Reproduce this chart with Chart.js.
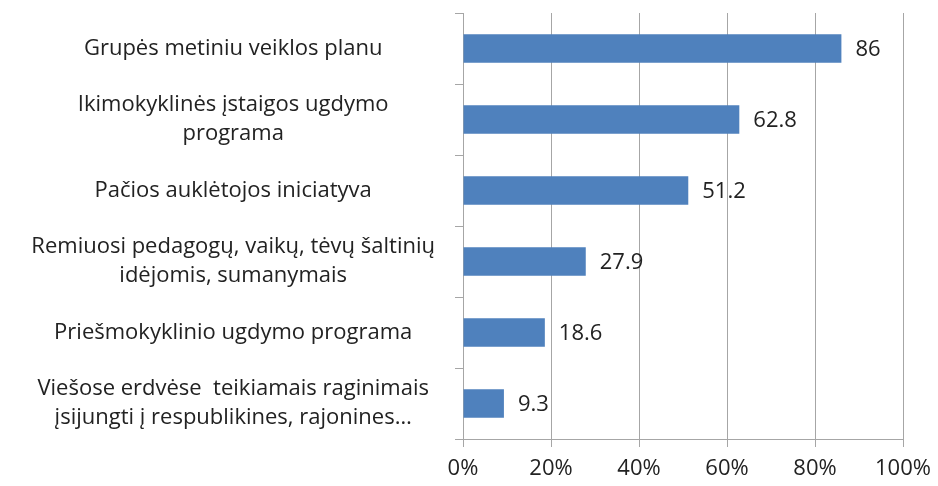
<!DOCTYPE html>
<html>
<head>
<meta charset="utf-8">
<script src="https://cdn.jsdelivr.net/npm/chart.js@4/dist/chart.umd.min.js"></script>
<style>
  html, body { margin: 0; padding: 0; background: #fff; }
  #wrap { width: 938px; height: 486px; }
</style>
</head>
<body>
<div id="wrap"><canvas id="chart" width="938" height="486"></canvas></div>
<script>
const CATEGORIES = [
  'Grupės metiniu veiklos planu',
  ['Ikimokyklinės įstaigos ugdymo', 'programa'],
  'Pačios auklėtojos iniciatyva',
  ['Remiuosi pedagogų, vaikų, tėvų šaltinių', 'idėjomis, sumanymais'],
  'Priešmokyklinio ugdymo programa',
  ['Viešose erdvėse  teikiamais raginimais', 'įsijungti į respublikines, rajonines…'],
];
const VALUES = [86, 62.8, 51.2, 27.9, 18.6, 9.3];
const X_TICKS = [0, 20, 40, 60, 80, 100];

const FONT = '"Open Sans", "Noto Sans", sans-serif';
const GRID = '#a6a6a6';

const valueLabels = {
  id: 'valueLabels',
  afterDatasetsDraw(chart) {
    const { ctx } = chart;
    const meta = chart.getDatasetMeta(0);
    ctx.save();
    ctx.font = '22px ' + FONT;
    ctx.fillStyle = '#222';
    ctx.textBaseline = 'middle';
    ctx.textAlign = 'left';
    meta.data.forEach((bar, i) => {
      ctx.fillText(String(VALUES[i]), bar.x + 14, bar.y + 1);
    });
    ctx.restore();
  },
};

new Chart(document.getElementById('chart'), {
  type: 'bar',
  data: {
    labels: CATEGORIES,
    datasets: [{
      data: VALUES,
      backgroundColor: '#4F81BD',
      categoryPercentage: 1,
      barPercentage: 0.4,
    }],
  },
  options: {
    indexAxis: 'y',
    responsive: false,
    animation: false,
    layout: { padding: { top: 13, right: 35, bottom: 0, left: 0 } },
    plugins: { legend: { display: false }, tooltip: { enabled: false } },
    scales: {
      x: {
        min: 0,
        max: 100,
        afterBuildTicks: (s) => { s.ticks = X_TICKS.map((v) => ({ value: v })); },
        afterFit: (s) => { s.height = 47; s.paddingLeft = 0; s.paddingRight = 0; },
        grid: { color: GRID, lineWidth: 1, tickLength: 8 },
        border: { color: GRID },
        ticks: {
          color: '#222',
          font: { family: FONT, size: 22 },
          padding: 9,
          maxRotation: 0,
          callback: (v) => v + '%',
        },
      },
      y: {
        afterFit: (s) => { s.width = 463; s.paddingTop = 0; s.paddingBottom = 0; },
        grid: { offset: true, drawOnChartArea: false, color: GRID, tickLength: 8 },
        border: { color: GRID },
        ticks: {
          color: '#222',
          font: { family: FONT, size: 22, lineHeight: 1.3 },
          padding: 20,
          crossAlign: 'center',
        },
      },
    },
  },
  plugins: [valueLabels],
});
</script>
</body>
</html>
